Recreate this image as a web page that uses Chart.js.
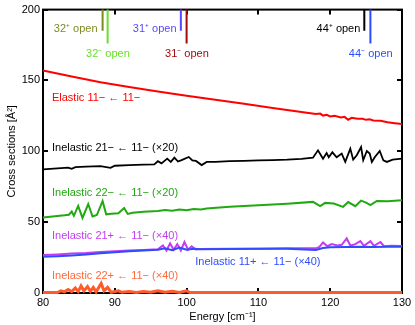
<!DOCTYPE html>
<html>
<head>
<meta charset="utf-8">
<script src="https://cdn.jsdelivr.net/npm/chart.js@4"></script>
<style>
  html, body { margin: 0; padding: 0; background: #fff; }
  #wrap { width: 415px; height: 325px; }
</style>
</head>
<body>
<div id="wrap"><canvas id="grafica" width="415" height="325"></canvas></div>
<script>
// Energias (cm^-1) y secciones eficaces
const elasticE = [80, 84, 88, 92, 96, 100, 104, 108, 112, 116, 118, 118.6, 119, 119.5, 120, 120.6, 121.5, 122, 122.5, 123, 123.8, 124.5, 125, 125.5, 126, 127, 128, 129, 130];
const elasticY = [157, 152.8, 148.8, 145.4, 142.2, 139.2, 136.3, 133.5, 130.6, 127.8, 126.4, 126.6, 125.2, 125.8, 124.6, 125.0, 123.9, 124.3, 122.3, 123.6, 122.9, 123.0, 122.2, 122.6, 121.7, 121.6, 120.5, 119.8, 119.2];

const inel21mE = [80, 82, 83.5, 84, 84.5, 86, 88, 89.4, 90, 92, 94, 95.5, 96, 96.5, 97.3, 97.8, 98.3, 98.8, 99.3, 100.3, 100.8, 101.3, 102.1, 102.8, 104, 106, 108, 110, 112, 114, 116, 117.6, 118.3, 119, 119.5, 119.8, 120.3, 120.9, 121.6, 122.1, 122.8, 123.2, 123.7, 124.3, 124.6, 125.1, 125.5, 125.8, 126.2, 126.9, 127.4, 127.9, 128.7, 130];
const inel21mY = [87.3, 88, 88.5, 87.6, 88.8, 89.2, 89.5, 88.3, 89.8, 90.2, 90.6, 90.8, 93, 91.5, 94.8, 92.5, 95.5, 92.8, 93.8, 96, 93.5, 93.2, 90.3, 92.5, 92.5, 93, 93.3, 93.6, 93.8, 94.1, 94.7, 95.5, 100.7, 94.8, 98.8, 95.8, 99.3, 95.8, 98.4, 92.5, 101.9, 94.1, 97.2, 103, 93.7, 100.2, 98.4, 92.5, 95.8, 100.2, 93.7, 92.5, 94.1, 94.8];

const inel22mE = [80, 81, 82, 83, 83.6, 84, 84.3, 84.9, 85.5, 86.3, 86.9, 87.5, 88.3, 88.8, 89.5, 90.5, 91.3, 91.8, 92.5, 94, 96, 97, 98, 99, 100, 101, 102, 102.8, 106, 110, 114, 117.6, 118.6, 119.3, 120.5, 121.8, 122.5, 123.5, 124.3, 125, 125.6, 126.5, 128, 130];
const inel22mY = [53.3, 53.8, 54.3, 54.8, 55.2, 57.5, 54.5, 61.5, 53, 62.8, 54, 55, 64.8, 55.5, 56, 56.3, 60, 55.8, 56.7, 57.3, 57.8, 58.6, 58.1, 59, 58.4, 59.3, 58.9, 59.6, 60.8, 62, 63, 64.3, 61.3, 63.6, 63.2, 60.8, 64.2, 61.3, 65.2, 63.8, 62, 65, 64.8, 65.5];

const inel21pE = [80, 82, 84, 86, 88, 90, 92, 94, 96, 96.7, 97.2, 97.7, 98.2, 98.7, 99.2, 99.7, 100.2, 100.7, 101.3, 102, 106, 110, 114, 118, 118.5, 119, 119.6, 120.2, 121, 121.6, 122.3, 122.8, 123.5, 124.2, 124.7, 125.6, 126.1, 127, 127.5, 128.5, 130];
const inel21pY = [26.8, 27.2, 27.8, 28.2, 29, 29.5, 30, 30.3, 30.8, 33.5, 30, 35, 30.5, 34.5, 30, 36, 30.5, 33, 30.7, 31, 31.2, 31.3, 31.5, 31.5, 32.5, 35.7, 33, 34.5, 33.5, 34, 38.5, 33.5, 34.5, 36.6, 33.3, 36.6, 33.3, 36, 33, 33.4, 33.2];

const inel11pE = [80, 82, 84, 86, 88, 90, 92, 94, 96, 97, 98, 99, 100, 101, 102, 106, 110, 114, 118, 119, 120, 122, 124, 126, 128, 130];
const inel11pY = [25.6, 26, 26.5, 27.2, 28, 28.8, 29.5, 30, 30.5, 31.5, 30.2, 32, 30.5, 31.2, 30.8, 31, 31.2, 31.3, 30.4, 31.8, 32.2, 32.5, 32.7, 32.5, 32.7, 32.6];

const inel22pE = [80, 82, 82.5, 83, 83.5, 84, 84.5, 84.9, 85.3, 85.7, 86.2, 86.6, 87, 87.4, 88.1, 88.5, 89, 89.5, 90.5, 91, 92, 93, 94, 95, 96, 97, 98, 99, 100, 100.5, 102, 130];
const inel22pY = [0.3, 0.3, 1.5, 0.8, 2.5, 1, 3.5, 1, 5, 1.5, 4.5, 1.2, 4, 0.8, 6.8, 1.5, 4, 0.5, 1.5, 0.5, 1, 0.4, 1, 0.5, 1.5, 0.5, 1.2, 0.4, 1.5, 0.3, 0.3, 0.3];

// Umbrales de apertura de canales
const openLabels = ['32⁺ open', '32⁻ open', '31⁺ open', '31⁻ open', '44⁺ open', '44⁻ open'];
const openE = [88.3, 89.0, 99.2, 100.0, 124.75, 125.6];
const openBottom = [185, 176, 185, 176, 185, 176];
const openTop = 200;

const xTicks = [80, 90, 100, 110, 120, 130];
const yTicks = [0, 50, 100, 150, 200];

const openColors = ['#7f8a1e', '#66e02a', '#5a48ff', '#a00c0c', '#000000', '#2a4cff'];

function pares(xs, ys) {
  return xs.map((x, i) => ({ x: x, y: ys[i] }));
}

function serie(xs, ys, color, ancho) {
  return {
    data: pares(xs, ys),
    borderColor: color,
    borderWidth: ancho,
    pointRadius: 0,
    tension: 0,
    clip: false
  };
}

const datasets = [];
openE.forEach((e, i) => {
  datasets.push(serie([e, e], [openTop, openBottom[i]], openColors[i], 2));
});
datasets.push(serie(elasticE, elasticY, '#ff0000', 2));
datasets.push(serie(inel21mE, inel21mY, '#000000', 1.8));
datasets.push(serie(inel22mE, inel22mY, '#22a812', 2));
datasets.push(serie(inel11pE, inel11pY, '#2f4cff', 2));
datasets.push(serie(inel21pE, inel21pY, '#c43cf2', 2));
datasets.push(serie(inel22pE, inel22pY, '#ff5a2a', 3));

// Textos sobre la grafica (posicion en coordenadas de datos)
const textos = [
  { t: 'Elastic 11− ← 11−', x: 81.25, y: 137.3, c: '#ff0000', a: 'left' },
  { t: 'Inelastic 21− ← 11− (×20)', x: 81.25, y: 102, c: '#000000', a: 'left' },
  { t: 'Inelastic 22− ← 11− (×20)', x: 81.25, y: 70.4, c: '#22a812', a: 'left' },
  { t: 'Inelastic 21+ ← 11− (×40)', x: 81.25, y: 40.1, c: '#c43cf2', a: 'left' },
  { t: 'Inelastic 11+ ← 11− (×40)', x: 101.2, y: 21.8, c: '#2f4cff', a: 'left' },
  { t: 'Inelastic 22+ ← 11− (×40)', x: 81.25, y: 12, c: '#ff6a3c', a: 'left' },
  { t: openLabels[0], x: 87.6, y: 186.6, c: openColors[0], a: 'right' },
  { t: openLabels[1], x: 86.0, y: 169, c: openColors[1], a: 'left' },
  { t: openLabels[2], x: 98.6, y: 186.6, c: openColors[2], a: 'right' },
  { t: openLabels[3], x: 97.0, y: 169, c: openColors[3], a: 'left' },
  { t: openLabels[4], x: 124.2, y: 186.6, c: openColors[4], a: 'right' },
  { t: openLabels[5], x: 122.6, y: 169, c: openColors[5], a: 'left' }
];

const FUENTE = '11px "Liberation Sans", Arial, sans-serif';

const marco = {
  id: 'marco',
  beforeDatasetsDraw(chart) {
    const ctx = chart.ctx;
    const a = chart.chartArea;
    const sx = chart.scales.x, sy = chart.scales.y;
    ctx.save();
    ctx.strokeStyle = '#000';
    ctx.lineWidth = 2;
    ctx.strokeRect(a.left, a.top, a.right - a.left, a.bottom - a.top);
    ctx.lineWidth = 2;
    ctx.beginPath();
    xTicks.forEach(v => {
      const px = Math.round(sx.getPixelForValue(v));
      ctx.moveTo(px, a.bottom); ctx.lineTo(px, a.bottom - 5);
      ctx.moveTo(px, a.top); ctx.lineTo(px, a.top + 5);
    });
    yTicks.forEach(v => {
      const py = Math.round(sy.getPixelForValue(v));
      ctx.moveTo(a.left, py); ctx.lineTo(a.left + 5, py);
      ctx.moveTo(a.right, py); ctx.lineTo(a.right - 5, py);
    });
    ctx.stroke();
    ctx.restore();
  },
  afterDatasetsDraw(chart) {
    const ctx = chart.ctx;
    const a = chart.chartArea;
    const sx = chart.scales.x, sy = chart.scales.y;
    ctx.save();
    ctx.font = FUENTE;
    ctx.textBaseline = 'middle';
    textos.forEach(o => {
      ctx.fillStyle = o.c;
      ctx.textAlign = o.a;
      ctx.fillText(o.t, sx.getPixelForValue(o.x), sy.getPixelForValue(o.y));
    });
    // titulos de los ejes
    ctx.fillStyle = '#000';
    ctx.textAlign = 'center';
    ctx.fillText('Energy [cm⁻¹]', (a.left + a.right) / 2, 317);
    ctx.translate(12, (a.top + a.bottom) / 2);
    ctx.rotate(-Math.PI / 2);
    ctx.fillText('Cross sections [Å²]', 0, 0);
    ctx.restore();
  }
};

const $grafica = document.getElementById('grafica');
const chart = new Chart($grafica, {
  type: 'line',
  data: { datasets: datasets },
  options: {
    responsive: false,
    animation: false,
    layout: { padding: { left: 0, right: 13, top: 9, bottom: 0 } },
    plugins: { legend: { display: false }, tooltip: { enabled: false } },
    scales: {
      x: {
        type: 'linear', min: 80, max: 130,
        afterFit: s => { s.height = 32; },
        afterBuildTicks: s => { s.ticks = xTicks.map(v => ({ value: v })); },
        grid: { display: false, drawTicks: false },
        border: { display: false },
        ticks: { color: '#000', font: { family: '"Liberation Sans", Arial, sans-serif', size: 11 }, padding: 3, maxRotation: 0 }
      },
      y: {
        min: 0, max: 200,
        afterFit: s => { s.width = 43; },
        afterBuildTicks: s => { s.ticks = yTicks.map(v => ({ value: v })); },
        grid: { display: false, drawTicks: false },
        border: { display: false },
        ticks: { color: '#000', font: { family: '"Liberation Sans", Arial, sans-serif', size: 11 }, padding: 3 }
      }
    }
  },
  plugins: [marco]
});
</script>
</body>
</html>
